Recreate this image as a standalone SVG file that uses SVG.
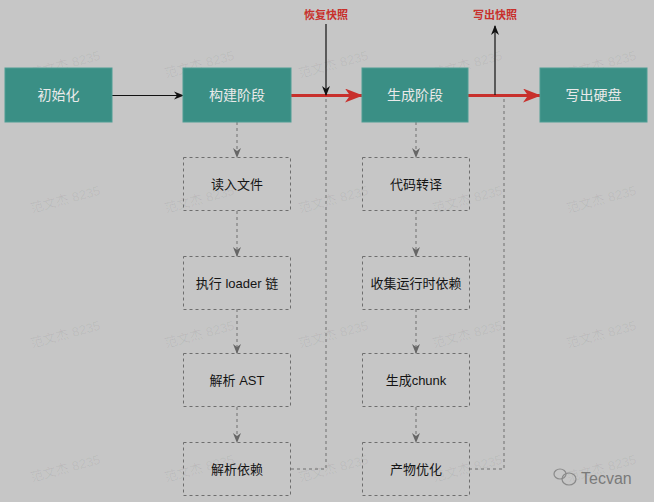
<svg xmlns="http://www.w3.org/2000/svg" width="654" height="502" viewBox="0 0 654 502">
<defs>
<style>
.bg{fill:#c6c6c6}
.solid{fill:#3a8f85;stroke:#4f9d94;stroke-width:1}
.dbox{fill:none;stroke:#6e6e6e;stroke-width:1;stroke-dasharray:3 3}
.tw{font-family:"Liberation Sans","Noto Sans CJK SC",sans-serif;font-size:14px;fill:#eaeaea;text-anchor:middle;dominant-baseline:central}
.tb{font-family:"Liberation Sans","Noto Sans CJK SC",sans-serif;font-size:13px;fill:#141414;text-anchor:middle;dominant-baseline:central}
.tr{font-family:"Liberation Sans","Noto Sans CJK SC",sans-serif;font-size:11px;font-weight:bold;fill:#c8302c;text-anchor:middle;dominant-baseline:central}
.wm{font-family:"Liberation Sans","Noto Sans CJK SC",sans-serif;font-size:13px;fill:#000;fill-opacity:0.06}
.dash{fill:none;stroke:#6e6e6e;stroke-width:1;stroke-dasharray:3 3}
.red{fill:none;stroke:#c8302c;stroke-width:3}
.blk{fill:none;stroke:#111;stroke-width:1.2}
</style>
<marker id="ab" markerWidth="10" markerHeight="10" refX="9" refY="5" orient="auto" markerUnits="userSpaceOnUse"><path d="M0,1 L10,5 L0,9 L3,5 z" fill="#111"/></marker>
<marker id="ar" markerWidth="18" markerHeight="14" refX="17" refY="7" orient="auto" markerUnits="userSpaceOnUse"><path d="M0,0 L18,7 L0,14 L5,7 z" fill="#c8302c"/></marker>
<marker id="ag" markerWidth="10" markerHeight="10" refX="9" refY="5" orient="auto" markerUnits="userSpaceOnUse"><path d="M0,1 L10,5 L0,9 L3,5 z" fill="#666"/></marker>
</defs>
<rect class="bg" x="0" y="0" width="654" height="502"/>
<g id="watermarks">
<g transform="translate(32,78) rotate(-15)"><text class="wm">范文杰 8235</text></g>
<g transform="translate(166,78) rotate(-15)"><text class="wm">范文杰 8235</text></g>
<g transform="translate(300,78) rotate(-15)"><text class="wm">范文杰 8235</text></g>
<g transform="translate(434,78) rotate(-15)"><text class="wm">范文杰 8235</text></g>
<g transform="translate(568,78) rotate(-15)"><text class="wm">范文杰 8235</text></g>
<g transform="translate(32,213) rotate(-15)"><text class="wm">范文杰 8235</text></g>
<g transform="translate(166,213) rotate(-15)"><text class="wm">范文杰 8235</text></g>
<g transform="translate(300,213) rotate(-15)"><text class="wm">范文杰 8235</text></g>
<g transform="translate(434,213) rotate(-15)"><text class="wm">范文杰 8235</text></g>
<g transform="translate(568,213) rotate(-15)"><text class="wm">范文杰 8235</text></g>
<g transform="translate(32,348) rotate(-15)"><text class="wm">范文杰 8235</text></g>
<g transform="translate(166,348) rotate(-15)"><text class="wm">范文杰 8235</text></g>
<g transform="translate(300,348) rotate(-15)"><text class="wm">范文杰 8235</text></g>
<g transform="translate(434,348) rotate(-15)"><text class="wm">范文杰 8235</text></g>
<g transform="translate(568,348) rotate(-15)"><text class="wm">范文杰 8235</text></g>
<g transform="translate(32,482) rotate(-15)"><text class="wm">范文杰 8235</text></g>
<g transform="translate(166,482) rotate(-15)"><text class="wm">范文杰 8235</text></g>
<g transform="translate(300,482) rotate(-15)"><text class="wm">范文杰 8235</text></g>
<g transform="translate(434,482) rotate(-15)"><text class="wm">范文杰 8235</text></g>
<g transform="translate(568,482) rotate(-15)"><text class="wm">范文杰 8235</text></g>
</g>
<g id="connectors">
<line class="blk" x1="112" y1="95.5" x2="183" y2="95.5" marker-end="url(#ab)"/>
<line class="red" x1="291" y1="95.5" x2="362" y2="95.5" marker-end="url(#ar)"/>
<line class="red" x1="468" y1="95.5" x2="540" y2="95.5" marker-end="url(#ar)"/>
<line class="blk" x1="326" y1="24" x2="326" y2="95" marker-end="url(#ab)"/>
<line class="blk" x1="495" y1="95" x2="495" y2="26" marker-end="url(#ab)"/>
<path class="dash" d="M291,469 H326 V97"/>
<path class="dash" d="M469,469 H504 V97"/>
<line class="dash" x1="237" y1="122" x2="237" y2="157" marker-end="url(#ag)"/>
<line class="dash" x1="237" y1="211" x2="237" y2="256" marker-end="url(#ag)"/>
<line class="dash" x1="237" y1="309" x2="237" y2="353" marker-end="url(#ag)"/>
<line class="dash" x1="237" y1="407" x2="237" y2="442" marker-end="url(#ag)"/>
<line class="dash" x1="416" y1="122" x2="416" y2="157" marker-end="url(#ag)"/>
<line class="dash" x1="416" y1="211" x2="416" y2="256" marker-end="url(#ag)"/>
<line class="dash" x1="416" y1="309" x2="416" y2="353" marker-end="url(#ag)"/>
<line class="dash" x1="416" y1="407" x2="416" y2="442" marker-end="url(#ag)"/>
</g>
<g id="label-restore"><text class="tr" x="326" y="15">恢复快照</text></g>
<g id="label-write"><text class="tr" x="495" y="15">写出快照</text></g>
<g id="init"><rect class="solid" x="5" y="68" width="107" height="54"/><text class="tw" x="58.5" y="95">初始化</text></g>
<g id="build"><rect class="solid" x="183" y="68" width="108" height="54"/><text class="tw" x="237" y="95">构建阶段</text></g>
<g id="gen"><rect class="solid" x="362" y="68" width="106" height="54"/><text class="tw" x="415" y="95">生成阶段</text></g>
<g id="write"><rect class="solid" x="540" y="68" width="107" height="54"/><text class="tw" x="593.5" y="95">写出硬盘</text></g>
<g id="read"><rect class="dbox" x="183.5" y="157.5" width="107" height="53"/><text class="tb" x="237" y="184">读入文件</text></g>
<g id="loader"><rect class="dbox" x="183.5" y="256.5" width="107" height="53"/><text class="tb" x="237" y="283">执行 loader 链</text></g>
<g id="ast"><rect class="dbox" x="183.5" y="353.5" width="107" height="53"/><text class="tb" x="237" y="380">解析 AST</text></g>
<g id="deps"><rect class="dbox" x="183.5" y="442.5" width="107" height="53"/><text class="tb" x="237" y="469">解析依赖</text></g>
<g id="transpile"><rect class="dbox" x="362.5" y="157.5" width="107" height="53"/><text class="tb" x="416" y="184">代码转译</text></g>
<g id="runtime"><rect class="dbox" x="362.5" y="256.5" width="107" height="53"/><text class="tb" x="416" y="283">收集运行时依赖</text></g>
<g id="chunk"><rect class="dbox" x="362.5" y="353.5" width="107" height="53"/><text class="tb" x="416" y="380">生成chunk</text></g>
<g id="optimize"><rect class="dbox" x="362.5" y="442.5" width="107" height="53"/><text class="tb" x="416" y="469">产物优化</text></g>
<g id="brand">
<ellipse cx="560" cy="474" rx="6" ry="5" fill="none" stroke="#8a8a8a" stroke-width="1.2"/>
<ellipse cx="569" cy="479" rx="7" ry="6" fill="none" stroke="#8a8a8a" stroke-width="1.2"/>
<text x="581" y="484" font-family="Liberation Sans, sans-serif" font-size="16" fill="#7a7a7a">Tecvan</text>
</g>
</svg>
